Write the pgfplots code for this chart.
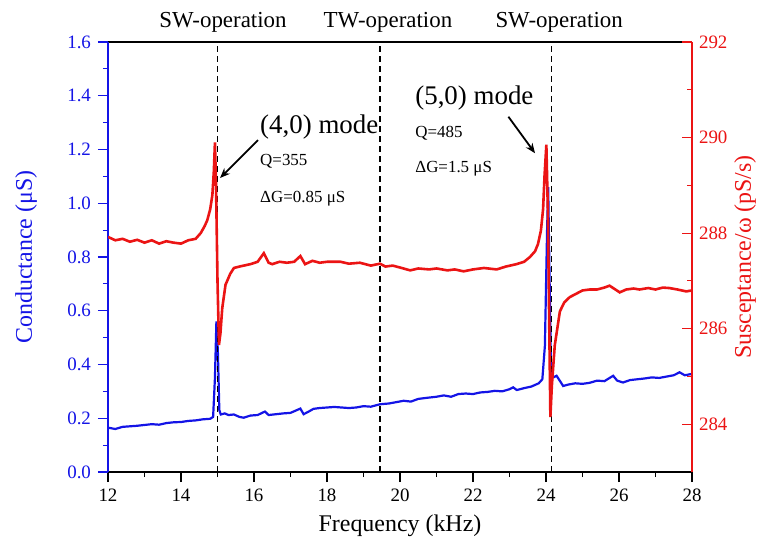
\documentclass[border=0pt]{standalone}
\usepackage{fontspec}
\setmainfont{Liberation Serif}
\usepackage{pgfplots}
\pgfplotsset{compat=1.18}
\usetikzlibrary{arrows.meta}

\definecolor{gblue}{RGB}{20,20,230}
\definecolor{bred}{RGB}{235,20,20}

\pgfplotstableread{
f G
12.0 0.165
12.2 0.160
12.4 0.168
12.6 0.170
12.8 0.172
13.0 0.175
13.2 0.178
13.4 0.176
13.6 0.182
13.8 0.185
14.0 0.186
14.2 0.190
14.4 0.192
14.6 0.196
14.8 0.198
14.88 0.205
14.93 0.35
14.97 0.56
15.01 0.45
15.05 0.23
15.09 0.214
15.2 0.218
15.3 0.212
15.45 0.214
15.6 0.205
15.72 0.202
15.9 0.210
16.1 0.212
16.3 0.225
16.4 0.212
16.6 0.215
16.8 0.218
17.0 0.220
17.27 0.236
17.36 0.215
17.5 0.225
17.63 0.235
17.8 0.238
18.0 0.240
18.2 0.242
18.4 0.240
18.6 0.238
18.8 0.240
19.0 0.245
19.2 0.243
19.45 0.252
19.7 0.255
19.9 0.260
20.1 0.265
20.3 0.262
20.5 0.272
20.8 0.277
21.0 0.280
21.2 0.285
21.4 0.280
21.6 0.290
21.8 0.292
22.0 0.290
22.2 0.296
22.4 0.298
22.6 0.302
22.8 0.300
23.0 0.308
23.1 0.315
23.2 0.305
23.4 0.312
23.6 0.318
23.8 0.330
23.9 0.345
23.97 0.47
24.03 0.90
24.06 1.06
24.10 0.70
24.14 0.35
24.2 0.352
24.29 0.358
24.4 0.335
24.47 0.320
24.6 0.325
24.8 0.330
25.0 0.328
25.2 0.332
25.4 0.340
25.6 0.338
25.84 0.358
25.95 0.340
26.11 0.333
26.3 0.342
26.5 0.345
26.7 0.348
26.9 0.352
27.1 0.350
27.3 0.355
27.5 0.360
27.66 0.371
27.8 0.360
28.0 0.365
}\condtab

\pgfplotstableread{
f B
12.0 287.92
12.2 287.85
12.4 287.88
12.6 287.82
12.8 287.86
13.0 287.80
13.2 287.85
13.4 287.78
13.6 287.83
13.8 287.80
14.0 287.78
14.2 287.85
14.4 287.88
14.54 288.00
14.65 288.15
14.72 288.27
14.80 288.50
14.86 288.80
14.90 289.30
14.93 289.90
14.96 289.00
15.00 287.00
15.04 285.66
15.08 285.90
15.13 286.43
15.22 286.92
15.35 287.15
15.45 287.27
15.6 287.30
15.9 287.35
16.1 287.40
16.27 287.58
16.4 287.38
16.5 287.35
16.7 287.40
16.9 287.38
17.1 287.40
17.27 287.52
17.4 287.35
17.6 287.42
17.8 287.38
18.0 287.40
18.37 287.40
18.6 287.36
18.9 287.38
19.2 287.32
19.45 287.36
19.6 287.30
19.8 287.32
20.0 287.28
20.28 287.22
20.5 287.26
20.8 287.24
21.0 287.26
21.3 287.22
21.5 287.24
21.74 287.20
22.0 287.24
22.3 287.27
22.65 287.24
22.9 287.30
23.19 287.35
23.4 287.40
23.56 287.50
23.70 287.62
23.78 287.77
23.86 288.05
23.92 288.50
23.96 289.20
24.01 289.85
24.05 288.50
24.09 286.00
24.12 284.15
24.16 284.80
24.24 285.65
24.38 286.36
24.5 286.55
24.65 286.66
24.8 286.72
25.0 286.80
25.2 286.82
25.4 286.82
25.6 286.86
25.74 286.90
25.9 286.82
26.02 286.76
26.2 286.82
26.4 286.84
26.56 286.82
26.8 286.85
27.0 286.82
27.2 286.86
27.38 286.85
27.6 286.82
27.84 286.78
28.0 286.80
}\susctab

\begin{document}
\begin{tikzpicture}
\pgfplotsset{
  every axis/.append style={
    scale only axis, width=292bp, height=215bp,
    xmin=12, xmax=28,
    /pgf/number format/assume math mode=true,
    tick label style={font=\fontsize{9.5}{11}\selectfont},
    label style={font=\fontsize{12}{14}\selectfont},
    major tick length=5bp, minor tick length=2.5bp,
  },
}
\begin{axis}[
  name=ax1,
  separate axis lines,
  axis x line*=box,
  axis y line*=left,
  every outer x axis line/.append style={black, line width=0.75bp},
  every outer y axis line/.append style={gblue, line width=0.75bp},
  ymin=0, ymax=1.6,
  xtick={12,14,...,28}, minor x tick num=1,
  ytick={0,0.2,...,1.6}, minor y tick num=1,
  xtick pos=left,
  tick align=outside,
  x tick style={black, line width=0.6bp},
  y tick style={gblue, line width=0.6bp},
  yticklabel style={gblue, /pgf/number format/fixed, /pgf/number format/fixed zerofill, /pgf/number format/precision=1},
  xlabel={Frequency (kHz)},
  ylabel={Conductance (μS)},
  xlabel style={at={(axis description cs:0.5,-0.1256)}, anchor=center},
  ylabel style={at={(axis description cs:-0.14,0.5)}, anchor=center, gblue},
  clip=false,
]
\addplot[gblue, line width=1.1bp] table[x=f, y=G] {\condtab};
\addplot[black, line width=0.75bp, dash pattern=on 3bp off 2bp] coordinates {(15,0) (15,1.6)};
\addplot[black, line width=0.75bp, dash pattern=on 3bp off 2bp] coordinates {(19.45,0) (19.45,1.6)};
\addplot[black, line width=0.75bp, dash pattern=on 3bp off 2bp] coordinates {(24.15,0) (24.15,1.6)};
\node[anchor=base, font=\fontsize{11.5}{13}\selectfont, yshift=7bp] at (axis cs:15.15,1.6) {SW-operation};
\node[anchor=base, font=\fontsize{11.5}{13}\selectfont, yshift=7bp] at (axis cs:19.67,1.6) {TW-operation};
\node[anchor=base, font=\fontsize{11.5}{13}\selectfont, yshift=7bp] at (axis cs:24.36,1.6) {SW-operation};
\node[anchor=base west, inner sep=0pt, font=\fontsize{13.5}{15}\selectfont] at (axis cs:16.16,1.261) {(4,0) mode};
\node[anchor=base west, inner sep=0pt, font=\fontsize{8.5}{10}\selectfont] at (axis cs:16.16,1.142) {Q=355};
\node[anchor=base west, inner sep=0pt, font=\fontsize{8.5}{10}\selectfont] at (axis cs:16.16,1.001) {ΔG=0.85 μS};
\node[anchor=base west, inner sep=0pt, font=\fontsize{13.5}{15}\selectfont] at (axis cs:20.41,1.366) {(5,0) mode};
\node[anchor=base west, inner sep=0pt, font=\fontsize{8.5}{10}\selectfont] at (axis cs:20.41,1.243) {Q=485};
\node[anchor=base west, inner sep=0pt, font=\fontsize{8.5}{10}\selectfont] at (axis cs:20.41,1.113) {ΔG=1.5 μS};
\draw[-{Stealth[length=5bp,width=4bp]}, line width=0.9bp] (axis cs:16.11,1.235) -- (axis cs:15.07,1.094);
\draw[-{Stealth[length=5bp,width=4bp]}, line width=0.9bp] (axis cs:22.97,1.322) -- (axis cs:23.70,1.186);
\end{axis}
\begin{axis}[
  separate axis lines,
  axis x line=none,
  axis y line*=right,
  every outer y axis line/.append style={bred, line width=0.75bp},
  ymin=283, ymax=292,
  ytick={284,286,...,292}, minor y tick num=1,
  tick align=inside,
  y tick style={bred, line width=0.6bp},
  yticklabel style={bred},
  ylabel={Susceptance/ω (pS/s)},
  ylabel style={at={(axis description cs:1.0908,0.5)}, anchor=center, bred, rotate=0},
]
\addplot[bred, line width=1.3bp] table[x=f, y=B] {\susctab};
\end{axis}
\pgfresetboundingbox
\path[use as bounding box] ([xshift=-54bp,yshift=-36.5bp]ax1.south west) rectangle ([xshift=38bp,yshift=21bp]ax1.north east);
\end{tikzpicture}
\end{document}
